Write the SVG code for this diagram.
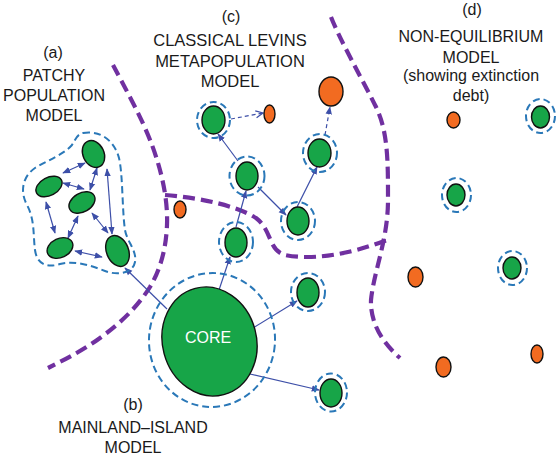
<svg xmlns="http://www.w3.org/2000/svg" width="556" height="456" viewBox="0 0 556 456">
<defs>
<style>
.lbl{font-family:"Liberation Sans",Arial,sans-serif;font-size:16px;fill:#1a1a1a;text-anchor:middle}
.core{font-family:"Liberation Sans",Arial,sans-serif;font-size:16px;fill:#ffffff;text-anchor:middle}
.g{fill:#17a548;stroke:#111;stroke-width:1.4}
.o{fill:#f26b21;stroke:#111;stroke-width:1.4}
.halo{fill:none;stroke:#2a78b8;stroke-width:2;stroke-dasharray:7 4}
.div{fill:none;stroke:#7030a0;stroke-width:4.2;stroke-dasharray:12 6}
.c{fill:none;stroke:#3d4fa8;stroke-width:1.2}
.cd{fill:none;stroke:#3d4fa8;stroke-width:1.2;stroke-dasharray:4 3}
</style>
<marker id="ah" viewBox="0 0 10 10" refX="9" refY="5" markerWidth="8" markerHeight="8" markerUnits="userSpaceOnUse" orient="auto-start-reverse">
<path d="M0,1 L10,5 L0,9 Z" fill="#3d4fa8"/>
</marker>
<marker id="ao" viewBox="0 0 10 10" refX="9" refY="5" markerWidth="9" markerHeight="9" markerUnits="userSpaceOnUse" orient="auto">
<path d="M1,1 L9,5 L1,9" fill="none" stroke="#3d4fa8" stroke-width="1.4"/>
</marker>
</defs>

<g id="labels">
<text class="lbl" x="53" y="58">(a)</text>
<text class="lbl" x="54" y="81">PATCHY</text>
<text class="lbl" x="54" y="101">POPULATION</text>
<text class="lbl" x="54" y="121">MODEL</text>
<text class="lbl" x="231" y="22">(c)</text>
<text class="lbl" x="230" y="46" style="font-size:16.5px">CLASSICAL LEVINS</text>
<text class="lbl" x="230" y="66.5" style="font-size:16.5px">METAPOPULATION</text>
<text class="lbl" x="230" y="87" style="font-size:16.5px">MODEL</text>
<text class="lbl" x="472" y="15">(d)</text>
<text class="lbl" x="471" y="42">NON-EQUILIBRIUM</text>
<text class="lbl" x="471" y="63">MODEL</text>
<text class="lbl" x="471" y="81">(showing extinction</text>
<text class="lbl" x="471" y="101">debt)</text>
<text class="lbl" x="133" y="410">(b)</text>
<text class="lbl" x="133" y="433">MAINLAND–ISLAND</text>
<text class="lbl" x="133" y="453">MODEL</text>
</g>

<g id="dividers">
<path class="div" d="M113,65 C125,88 142,118 152,145 C162,172 168,200 167,225 C166,250 160,270 150,287 C138,306 122,322 100,338 C85,349 68,358 48,368"/>
<path class="div" d="M165,195 C200,198 235,205 256,218 C272,230 268,250 285,255 C310,260 345,256 387,240"/>
<path class="div" d="M331,17 C340,40 360,75 375,105 C388,130 388,160 388,200 C388,240 374,270 371,300 C370,325 385,345 400,358"/>
</g>

<g id="connectors">
<line class="c" x1="63" y1="173" x2="85" y2="163" marker-start="url(#ah)" marker-end="url(#ah)"/>
<line class="c" x1="63" y1="183" x2="84" y2="189" marker-start="url(#ah)" marker-end="url(#ah)"/>
<line class="c" x1="97" y1="168" x2="90" y2="190" marker-start="url(#ah)" marker-end="url(#ah)"/>
<line class="c" x1="107" y1="169" x2="112" y2="234" marker-start="url(#ah)" marker-end="url(#ah)"/>
<line class="c" x1="46" y1="202" x2="55" y2="233" marker-start="url(#ah)" marker-end="url(#ah)"/>
<line class="c" x1="78" y1="216" x2="68" y2="238" marker-start="url(#ah)" marker-end="url(#ah)"/>
<line class="c" x1="92" y1="213" x2="108" y2="233" marker-start="url(#ah)" marker-end="url(#ah)"/>
<line class="c" x1="75" y1="251" x2="102" y2="257" marker-start="url(#ah)" marker-end="url(#ah)"/>
<line class="c" x1="167" y1="309" x2="125" y2="268" marker-end="url(#ah)"/>
<line class="c" x1="219" y1="290" x2="230" y2="257" marker-end="url(#ah)"/>
<line class="c" x1="253" y1="328" x2="297" y2="301" marker-end="url(#ah)"/>
<line class="c" x1="250" y1="374" x2="319" y2="390" marker-end="url(#ah)"/>
<line class="c" x1="236" y1="227" x2="246" y2="191" marker-end="url(#ah)"/>
<line class="c" x1="238" y1="161" x2="218" y2="134" marker-end="url(#ah)"/>
<line class="c" x1="258" y1="187" x2="286" y2="215" marker-end="url(#ah)"/>
<line class="c" x1="297" y1="207" x2="317" y2="167" marker-end="url(#ah)"/>
<line class="cd" x1="231" y1="119" x2="263" y2="113" marker-end="url(#ao)"/>
<line class="cd" x1="325" y1="135" x2="330" y2="107" marker-end="url(#ah)"/>
</g>

<g id="patch-boundary">
<path class="halo" d="M83,133 C100,130 114,140 119,158 C123,175 122,210 125,230 C127,242 137,250 135,262 C133,273 118,276 105,271 C92,266 75,260 60,264 C48,268 37,265 35,250 C33,235 35,220 27,205 C20,192 22,177 35,168 C48,160 63,155 72,145 C76,138 78,134 83,133 Z"/>
</g>
<g id="patch1"><ellipse class="g" cx="0" cy="0" rx="10.5" ry="14" transform="translate(93.5,154) rotate(-25)"/></g>
<g id="patch2"><ellipse class="g" cx="0" cy="0" rx="14" ry="9" transform="translate(49,186.5) rotate(-28)"/></g>
<g id="patch3"><ellipse class="g" cx="0" cy="0" rx="14" ry="9.5" transform="translate(82,202.5) rotate(-30)"/></g>
<g id="patch4"><ellipse class="g" cx="0" cy="0" rx="13.5" ry="9.5" transform="translate(60,248) rotate(-25)"/></g>
<g id="patch5"><ellipse class="g" cx="0" cy="0" rx="11" ry="16" transform="translate(117.5,251) rotate(-22)"/></g>

<g id="core">
<ellipse class="halo" cx="0" cy="0" rx="63" ry="67" transform="translate(212,340) rotate(5)"/>
<ellipse class="g" cx="0" cy="0" rx="47" ry="55" transform="translate(209.5,341.5) rotate(-15)"/>
<text class="core" x="208" y="343">CORE</text>
</g>

<g id="island1">
<ellipse class="halo" cx="236" cy="242" rx="17" ry="20"/>
<ellipse class="g" cx="236" cy="242.5" rx="11" ry="14.5"/>
</g>
<g id="island2">
<ellipse class="halo" cx="308" cy="292" rx="17" ry="19"/>
<ellipse class="g" cx="308" cy="292.5" rx="11" ry="14.5"/>
</g>
<g id="island3">
<ellipse class="halo" cx="331" cy="392.5" rx="16" ry="19"/>
<ellipse class="g" cx="331" cy="393" rx="11" ry="14"/>
</g>

<g id="metaA">
<ellipse class="halo" cx="213.5" cy="120" rx="16.5" ry="18"/>
<ellipse class="g" cx="213.5" cy="120" rx="11.5" ry="14"/>
</g>
<g id="metaB">
<ellipse class="halo" cx="247" cy="176" rx="17.5" ry="19.5"/>
<ellipse class="g" cx="247" cy="176" rx="11" ry="14"/>
</g>
<g id="metaC">
<ellipse class="halo" cx="320" cy="153" rx="17" ry="19"/>
<ellipse class="g" cx="319.5" cy="153" rx="11.5" ry="14"/>
</g>
<g id="metaD">
<ellipse class="halo" cx="298" cy="221" rx="17" ry="19"/>
<ellipse class="g" cx="298" cy="221" rx="11" ry="14"/>
</g>
<g id="extinctA"><ellipse class="o" cx="269.5" cy="114" rx="5.5" ry="9"/></g>
<g id="extinctC"><ellipse class="o" cx="331" cy="91.5" rx="12" ry="14.5"/></g>
<g id="extinctL"><ellipse class="o" cx="180" cy="209.5" rx="6" ry="8.5"/></g>

<g id="ne1"><ellipse class="o" cx="453.5" cy="120" rx="6.5" ry="8"/></g>
<g id="ne2">
<ellipse class="halo" cx="540.5" cy="116" rx="14.5" ry="17"/>
<ellipse class="g" cx="540.5" cy="117" rx="9" ry="11"/>
</g>
<g id="ne3">
<ellipse class="halo" cx="456.5" cy="195" rx="14.5" ry="17"/>
<ellipse class="g" cx="456" cy="195" rx="9" ry="11"/>
</g>
<g id="ne4"><ellipse class="o" cx="415.5" cy="277" rx="7.5" ry="10"/></g>
<g id="ne5">
<ellipse class="halo" cx="512.5" cy="268" rx="14.5" ry="17"/>
<ellipse class="g" cx="512" cy="268" rx="9" ry="11"/>
</g>
<g id="ne6"><ellipse class="o" cx="443.5" cy="367" rx="7.5" ry="10"/></g>
<g id="ne7"><ellipse class="o" cx="537" cy="354" rx="6" ry="9"/></g>
</svg>
